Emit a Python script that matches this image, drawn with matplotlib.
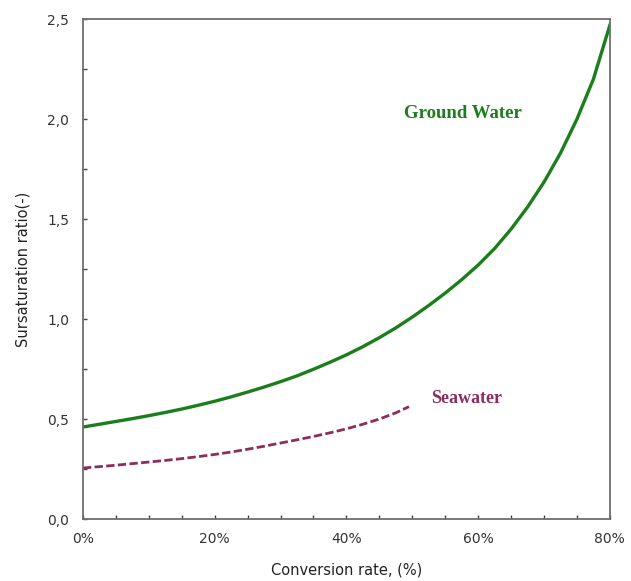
import numpy as np
import matplotlib
matplotlib.use("Agg")
import matplotlib.pyplot as plt
from matplotlib.ticker import MultipleLocator, FuncFormatter

# conversion rate (%) and supersaturation ratio for each water type
ground_rate = [0, 2.5, 5, 7.5, 10, 12.5, 15, 17.5, 20, 22.5, 25, 27.5, 30, 32.5,
               35, 37.5, 40, 42.5, 45, 47.5, 50, 52.5, 55, 57.5, 60, 62.5, 65,
               67.5, 70, 72.5, 75, 77.5, 80]
ground_ratio = [0.46, 0.474, 0.488, 0.502, 0.517, 0.533, 0.55, 0.569, 0.589, 0.611,
                0.635, 0.66, 0.687, 0.716, 0.749, 0.784, 0.821, 0.862, 0.907, 0.956,
                1.01, 1.068, 1.13, 1.197, 1.27, 1.353, 1.45, 1.56, 1.685, 1.83,
                2.0, 2.2, 2.47]

sea_rate = [0, 2.5, 5, 7.5, 10, 12.5, 15, 17.5, 20, 22.5, 25, 27.5, 30, 32.5,
            35, 37.5, 40, 42.5, 45, 47.5, 49.5]
sea_ratio = [0.255, 0.262, 0.269, 0.277, 0.285, 0.293, 0.302, 0.312, 0.323, 0.335,
             0.349, 0.364, 0.38, 0.396, 0.413, 0.431, 0.451, 0.474, 0.50, 0.531, 0.562]

GREEN = "#1b7d1b"
PURPLE = "#8c2d5e"

fig = plt.figure(figsize=(6.31, 5.81), dpi=100)
ax = fig.add_axes([0.1315, 0.1067, 0.835, 0.8603])

ax.plot(ground_rate, ground_ratio, color=GREEN, lw=2.4, solid_joinstyle="round")
ax.plot(sea_rate, sea_ratio, color=PURPLE, lw=2.0, ls=(0, (3, 1.2)))

ax.text(57.7, 2.03, "Ground Water", color=GREEN, fontsize=13.5, fontweight="bold",
        family="Liberation Serif", ha="center", va="center")
ax.text(58.3, 0.605, "Seawater", color=PURPLE, fontsize=13, fontweight="bold",
        family="Liberation Serif", ha="center", va="center")

ax.set_xlim(0, 80)
ax.set_ylim(0, 2.5)
ax.xaxis.set_major_locator(MultipleLocator(20))
ax.xaxis.set_minor_locator(MultipleLocator(5))
ax.yaxis.set_major_locator(MultipleLocator(0.5))
ax.yaxis.set_minor_locator(MultipleLocator(0.25))
ax.xaxis.set_major_formatter(FuncFormatter(lambda v, p: f"{v:.0f}%"))
ax.yaxis.set_major_formatter(FuncFormatter(lambda v, p: f"{v:.1f}".replace(".", ",")))

for s in ax.spines.values():
    s.set_color("#6e6e6e")
    s.set_linewidth(1.3)
ax.tick_params(which="both", direction="in", color="#444444", width=1.0,
               labelsize=10, labelcolor="#333333")
ax.tick_params(which="major", length=3, pad=9)
ax.tick_params(which="minor", length=3)
ax.tick_params(axis="y", which="major", pad=10)

ax.set_xlabel("Conversion rate, (%)", fontsize=10.5, color="#222222", labelpad=12)
ax.set_ylabel("Sursaturation ratio(-)", fontsize=10.5, color="#222222", labelpad=12)

fig.savefig("out.png", dpi=100, facecolor="white")
